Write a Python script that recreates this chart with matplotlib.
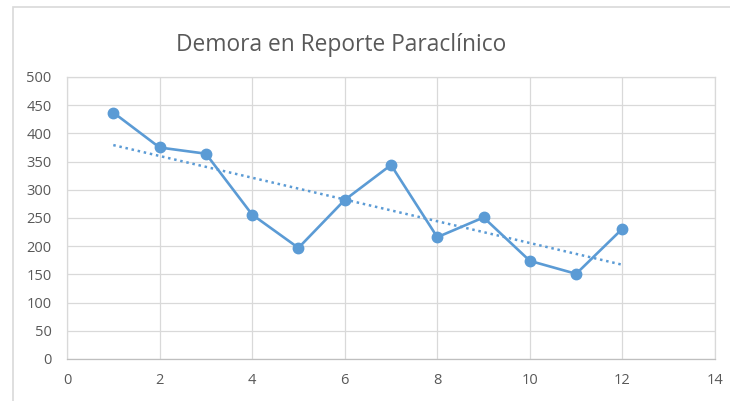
import numpy as np
import matplotlib.pyplot as plt
from matplotlib.patches import Rectangle

# months and delay values
mes = [1, 2, 3, 4, 5, 6, 7, 8, 9, 10, 11, 12]
demora = [437, 375, 364, 256, 197, 282, 344, 216, 251, 174, 151, 231]

x_ticks = [0, 2, 4, 6, 8, 10, 12, 14]
y_ticks = [0, 50, 100, 150, 200, 250, 300, 350, 400, 450, 500]

azul = '#5B9BD5'
gris_txt = '#595959'
gris_grid = '#d9d9d9'

plt.rcParams['font.family'] = ['Open Sans', 'DejaVu Sans']

fig = plt.figure(figsize=(7.3, 4.01), dpi=100)
ax = fig.add_axes([67 / 730, 42 / 401, 648 / 730, 282 / 401])

# chart border (only left and top visible in the crop)
fig.add_artist(Rectangle((13 / 730, -0.05), 1.0, 1 - 6.5 / 401 + 0.05,
                         transform=fig.transFigure, fill=False,
                         edgecolor=gris_grid, linewidth=1.2))

ax.plot(mes, demora, color=azul, linewidth=1.9, marker='o',
        markersize=7.5, zorder=3)

# linear trendline
m, b = np.polyfit(mes, demora, 1)
xt = np.array([mes[0], mes[-1]])
ax.plot(xt, m * xt + b, color=azul, linewidth=1.8,
        linestyle=(0, (1, 1.5)), zorder=2)

ax.set_xlim(0, 14)
ax.set_ylim(0, 500)
ax.set_xticks(x_ticks)
ax.set_yticks(y_ticks)
ax.grid(True, color=gris_grid, linewidth=0.9)
ax.set_axisbelow(True)
ax.tick_params(length=0, labelsize=10.5, labelcolor=gris_txt)
ax.tick_params(axis='y', pad=11)
ax.tick_params(axis='x', pad=10)
for s in ['left', 'right', 'top']:
    ax.spines[s].set_color(gris_grid)
    ax.spines[s].set_linewidth(0.9)
ax.spines['bottom'].set_color('#bfbfbf')
ax.spines['bottom'].set_linewidth(0.9)

fig.text(341 / 730, 1 - 45 / 401, 'Demora en Reporte Paraclínico',
         ha='center', va='center', fontsize=16.4, color=gris_txt)

fig.savefig('out.png', dpi=100)
